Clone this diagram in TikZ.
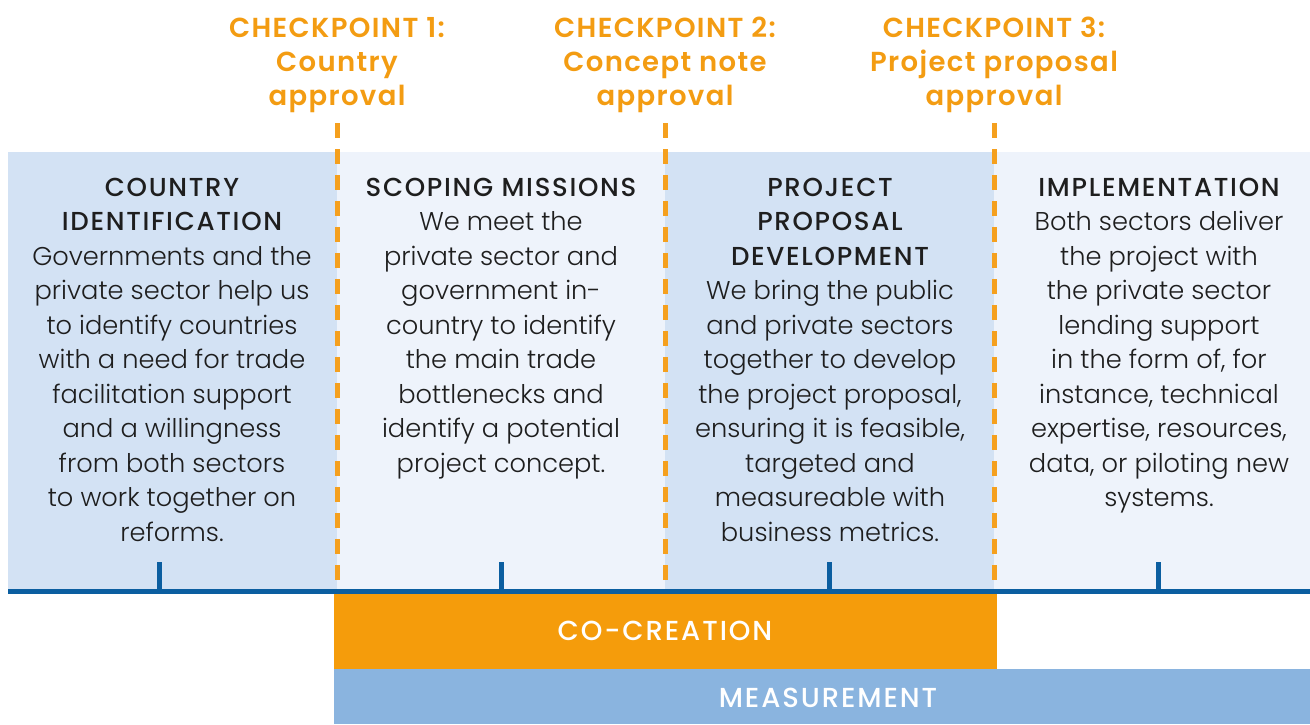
\documentclass[tikz,border=0pt]{standalone}
\usepackage{fontspec}
\setmainfont{Poppins}
\newfontfamily\bodyfont{Poppins Light}
\newfontfamily\titlefont{Poppins Medium}[LetterSpace=6.5]
\newfontfamily\ckfont{Poppins SemiBold}[LetterSpace=5]
\newfontfamily\barfont{Poppins Medium}[LetterSpace=7]
\definecolor{panelA}{HTML}{D3E2F4}
\definecolor{panelB}{HTML}{EEF3FB}
\definecolor{navy}{HTML}{0B5EA0}
\definecolor{barorange}{HTML}{F59C0B}
\definecolor{ckorange}{HTML}{F39C12}
\definecolor{dashorange}{HTML}{F5A01E}
\definecolor{meas}{HTML}{8AB4DF}
\definecolor{txt}{HTML}{1E1E1E}
\newcommand\ttl[1]{{\titlefont\fontsize{26}{34.5}\selectfont #1}}
\tikzset{
  coltext/.style={anchor=north, align=center, inner sep=0pt, text=txt,
    font=\bodyfont\fontsize{25.7}{34.5}\selectfont},
  cktext/.style={anchor=north, align=center, inner sep=0pt, text=ckorange,
    font=\ckfont\fontsize{27.5}{34}\selectfont},
  ckdash/.style={draw=dashorange, line width=5pt, dash pattern=on 15pt off 11pt},
  tickmark/.style={draw=navy, line width=5pt},
  barbox/.style={anchor=north west, inner sep=0pt},
  bartext/.style={text=white, inner sep=0pt, font=\barfont\fontsize{27.5}{30}\selectfont},
}
\begin{document}
\begin{tikzpicture}[x=1pt,y=-1pt]
\useasboundingbox (0,0) rectangle (1310,724);
% panels
\fill[panelA] (8,152) rectangle (337,589);
\fill[panelB] (337,152) rectangle (665,589);
\fill[panelA] (665,152) rectangle (994,589);
\fill[panelB] (994,152) rectangle (1310,589);
% bars
\node[barbox, fill=barorange, minimum width=663pt, minimum height=76pt] (cocreation) at (334,593) {};
\node[bartext] (cocreationlabel) at (665,631) {CO-CREATION};
\node[barbox, fill=meas, minimum width=976pt, minimum height=55pt] (measurement) at (334,669) {};
\node[bartext] (measurementlabel) at (828,698) {MEASUREMENT};
% checkpoint dashed lines
\coordinate (d1top) at (337,123); \coordinate (d1bot) at (337,590);
\coordinate (d2top) at (665,123); \coordinate (d2bot) at (665,590);
\coordinate (d3top) at (994,123); \coordinate (d3bot) at (994,590);
\draw[ckdash] (d1top) -- (d1bot);
\draw[ckdash] (d2top) -- (d2bot);
\draw[ckdash] (d3top) -- (d3bot);
% baseline and ticks
\coordinate (bl) at (8,591); \coordinate (br) at (1310,591);
\draw[navy, line width=5pt] (bl) -- (br);
\coordinate (t1a) at (159,562); \coordinate (t1b) at (159,590);
\coordinate (t2a) at (501,562); \coordinate (t2b) at (501,590);
\coordinate (t3a) at (829,562); \coordinate (t3b) at (829,590);
\coordinate (t4a) at (1158,562); \coordinate (t4b) at (1158,590);
\draw[tickmark] (t1a) -- (t1b);
\draw[tickmark] (t2a) -- (t2b);
\draw[tickmark] (t3a) -- (t3b);
\draw[tickmark] (t4a) -- (t4b);
% checkpoint labels
\node[cktext] (ck1) at (337,13) {\strut CHECKPOINT 1:\\Country\\approval};
\node[cktext] (ck2) at (665,13) {\strut CHECKPOINT 2:\\Concept note\\approval};
\node[cktext] (ck3) at (994,13) {\strut CHECKPOINT 3:\\Project proposal\\approval};
% column texts
\node[coltext] (col1) at (172,172) {\strut\ttl{COUNTRY}\\\ttl{IDENTIFICATION}\\Governments and the\\private sector help us\\to identify countries\\with a need for trade\\facilitation support\\and a willingness\\from both sectors\\to work together on\\reforms.};
\node[coltext] (col2) at (501,172) {\strut\ttl{SCOPING MISSIONS}\\We meet the\\private sector and\\government in-\\country to identify\\the main trade\\bottlenecks and\\identify a potential\\project concept.};
\node[coltext] (col3) at (830,172) {\strut\ttl{PROJECT}\\\ttl{PROPOSAL}\\\ttl{DEVELOPMENT}\\We bring the public\\and private sectors\\together to develop\\the project proposal,\\ensuring it is feasible,\\targeted and\\measureable with\\business metrics.};
\node[coltext] (col4) at (1159,172) {\strut\ttl{IMPLEMENTATION}\\Both sectors deliver\\the project with\\the private sector\\lending support\\in the form of, for\\instance, technical\\expertise, resources,\\data, or piloting new\\systems.};
\end{tikzpicture}
\end{document}
